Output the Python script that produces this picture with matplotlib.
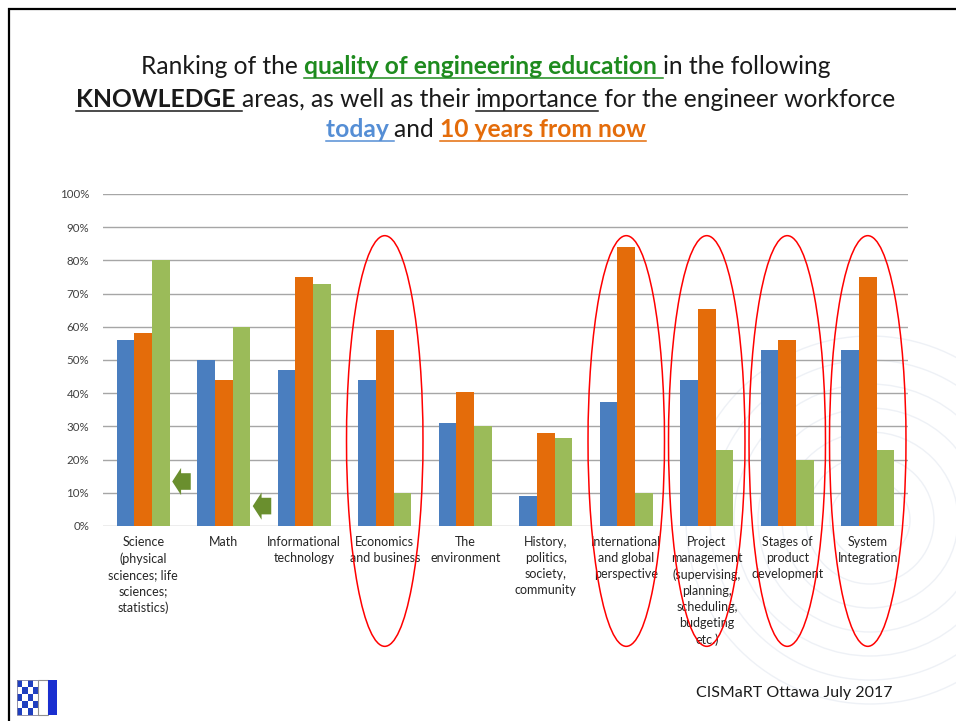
import numpy as np
import matplotlib
matplotlib.use("Agg")
import matplotlib.pyplot as plt
from matplotlib.patches import Ellipse, FancyArrow, Rectangle, Circle

plt.rcParams['font.family'] = ['Lato', 'DejaVu Sans']

# Catégories et valeurs (%)
categories = [
    "Science\n(physical\nsciences; life\nsciences;\nstatistics)",
    "Math",
    "Informational\ntechnology",
    "Economics\nand business",
    "The\nenvironment",
    "History,\npolitics,\nsociety,\ncommunity",
    "International\nand global\nperspective",
    "Project\nmanagement\n(supervising,\nplanning,\nscheduling,\nbudgeting\netc.)",
    "Stages of\nproduct\ndevelopment",
    "System\nIntegration",
]
importance_today = [56, 50, 47, 44, 31, 9, 37.5, 44, 53, 53]
importance_10ans = [58, 44, 75, 59, 40.5, 28, 84, 65.5, 56, 75]
qualite_education = [80, 60, 73, 10, 30, 26.5, 10, 23, 20, 23]
yticks = list(range(0, 101, 10))

# Catégories entourées en rouge
entourees = [3, 6, 7, 8, 9]
# Flèches vertes (catégorie, hauteur en %)
fleches = [(0, 13.4), (1, 6.0)]

bleu = "#4A7EBF"
orange = "#E46C0A"
vert = "#9BBB59"

W, H = 956, 721
fig = plt.figure(figsize=(W / 100, H / 100), dpi=100)
fig.patch.set_facecolor("white")

# Calque de fond en pixels pour le cadre, le titre et le logo
bg = fig.add_axes([0, 0, 1, 1], zorder=0)
bg.set_xlim(0, W)
bg.set_ylim(H, 0)
bg.axis("off")

# Filigrane discret en bas à droite
for r in range(40, 190, 24):
    bg.add_patch(Circle((870, 520), r, fill=False, ec="#eef1f6", lw=1.0))

# Cadre de la diapo
bg.plot([8, W], [9, 9], color="black", lw=1.6, solid_capstyle="butt")
bg.plot([9, 9], [8, H], color="black", lw=1.6, solid_capstyle="butt")

# Graphique
ax = fig.add_axes([103 / W, 1 - 526 / H, 805 / W, 332 / H], zorder=2)
ax.set_facecolor("none")
x = np.arange(len(categories))
w = 0.22
ax.bar(x - w, importance_today, w, color=bleu, zorder=3)
ax.bar(x, importance_10ans, w, color=orange, zorder=3)
ax.bar(x + w, qualite_education, w, color=vert, zorder=3)

ax.set_xlim(-0.5, 9.5)
ax.set_ylim(0, 100)
ax.set_yticks(yticks)
ax.set_yticklabels([f"{v}%" for v in yticks], fontsize=8.3, color="#404040")
ax.set_xticks(x)
ax.set_xticklabels(categories, fontsize=9, color="#262626", linespacing=1.42)
ax.tick_params(axis="both", length=0)
ax.tick_params(axis="y", pad=10)
ax.tick_params(axis="x", pad=7)
ax.yaxis.grid(True, color="#a6a6a6", lw=1.0, zorder=0)
ax.set_axisbelow(True)
for s in ax.spines.values():
    s.set_visible(False)

# Ellipses rouges
for i in entourees:
    ax.add_patch(Ellipse((i, 25.6), 0.95, 123.7, fill=False, ec="red", lw=1.1,
                         clip_on=False, zorder=5))

# Flèches vertes
for i, yv in fleches:
    ax.add_patch(FancyArrow(i + 0.59, yv, -0.23, 0, width=5.0, head_width=8.2,
                            head_length=0.11, length_includes_head=True,
                            color="#6A8F2E", ec="none", zorder=4))

# Titre multicolore, souligné par endroits
noir = "#1a1a1a"
lignes = [
    (74, [("Ranking of the ", noir, "normal", False),
          ("quality of engineering education ", "#1E8B1E", "bold", True),
          ("in the following", noir, "normal", False)]),
    (107, [("KNOWLEDGE ", noir, "bold", True),
           ("areas, as well as their ", noir, "normal", False),
           ("importance", noir, "normal", True),
           (" for the engineer workforce", noir, "normal", False)]),
    (137, [("today ", "#558ED5", "bold", True),
           ("and ", noir, "normal", False),
           ("10 years from now", orange, "bold", True)]),
]
taille = 17.7
renderer = fig.canvas.get_renderer()


def largeur(txt, poids):
    t1 = bg.text(0, 0, "|" + txt + "|", fontsize=taille, fontweight=poids)
    t2 = bg.text(0, 0, "||", fontsize=taille, fontweight=poids)
    l = t1.get_window_extent(renderer).width - t2.get_window_extent(renderer).width
    t1.remove()
    t2.remove()
    return l


for yb, segs in lignes:
    larg = [largeur(s, p) for s, c, p, u in segs]
    xc = 486 - sum(larg) / 2
    for (s, c, p, u), l in zip(segs, larg):
        bg.text(xc, yb, s, fontsize=taille, fontweight=p, color=c, va="baseline", ha="left")
        if u:
            bg.plot([xc, xc + l], [yb + 3.5, yb + 3.5], color=c, lw=1.1)
        xc += l

# Pied de page
bg.text(893, 693, "CISMaRT Ottawa July 2017", fontsize=11.5, color=noir, ha="right", va="center")

# Logo
for r in range(5):
    for c in range(4):
        col = "#1f3fbf" if (r + c) % 2 == 0 else "white"
        bg.add_patch(Rectangle((17 + c * 5.3, 680 + r * 7), 5.3, 7, color=col, lw=0))
bg.add_patch(Rectangle((17, 680), 21.2, 35, fill=False, ec="#8080a0", lw=0.6))
bg.add_patch(Rectangle((38, 680), 10, 35, fc="white", ec="#909090", lw=0.8))
bg.add_patch(Rectangle((48, 680), 9, 35, fc="#1a2fd0", ec="none"))

fig.savefig("out.png", dpi=100)
